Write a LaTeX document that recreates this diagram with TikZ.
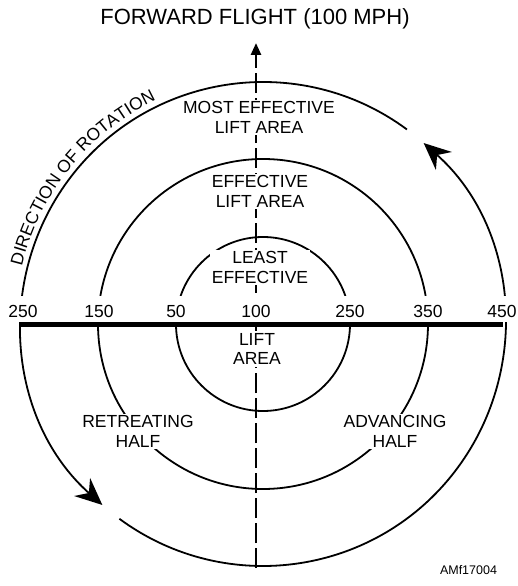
\documentclass[tikz,border=0pt]{standalone}
\usepackage{fontspec}
\setmainfont{Liberation Sans}
\usepackage{tikz}
\usetikzlibrary{arrows.meta,calc,positioning,decorations.text}

\begin{document}
\begin{tikzpicture}[x=1pt,y=1pt, every node/.style={font=\fontsize{17.5}{19.5}\selectfont,align=center},
  ring/.style={line width=1.8pt},
  spin/.style={ring,-{Stealth[length=27pt,width=24pt,inset=9pt]}},
  zone/.style={fill=white,inner sep=2pt},
  speed/.style={fill=white,anchor=south,inner xsep=2pt,inner ysep=0pt,text height=21.5pt,text depth=5pt}]
\useasboundingbox (-263,-262) rectangle (254,324);
% rotor disc
\draw[ring] (0,0) circle[radius=87];
\draw[ring] (0,0) circle[radius=165];
\draw[spin] (53.5:242) arc[start angle=53.5,end angle=228.4,radius=242];
\draw[spin] (233.6:242) arc[start angle=233.6,end angle=408.4,radius=242];
% flight axis
\coordinate (axbot) at (-7,-244);
\coordinate (axtop) at (-7,281);
\draw[line width=2.6pt,dash pattern=on 20pt off 5pt,-{Triangle[length=12pt,width=10pt]}] (axbot) -- (axtop);
% blade speeds
\node[speed] (s250l) at (-240,1.5) {250};
\node[speed] (s150) at (-164,1.5) {150};
\node[speed] (s50) at (-87,1.5) {50};
\node[speed] (s100) at (-7,1.5) {100};
\node[speed] (s250r) at (87,1.5) {250};
\node[speed] (s350) at (165,1.5) {350};
\node[speed] (s450) at (239,1.5) {450};
\coordinate (bladel) at (-242,-1);
\coordinate (blader) at (240,-1);
\draw[line width=5pt] (bladel) -- (blader);
% areas
\node[font=\fontsize{22}{24}\selectfont] (title) at (-8,305) {FORWARD FLIGHT (100 MPH)};
\node[zone] (most) at (-4,206.5) {MOST EFFECTIVE\\LIFT AREA};
\node[zone] (eff) at (-3,132.5) {EFFECTIVE\\LIFT AREA};
\node[zone] (least) at (-3,56.5) {LEAST\\EFFECTIVE};
\node[zone] (lift) at (-6,-25) {LIFT\\AREA};
\node[zone] (retr) at (-125,-107.5) {RETREATING\\HALF};
\node[zone] (adv) at (132,-107.5) {ADVANCING\\HALF};
\path[decorate,decoration={text along path,text align=center,
  text={|\fontsize{17.5}{19.5}\selectfont|DIRECTION OF ROTATION}}]
  (172:248) arc[start angle=172,end angle=110,radius=248];
\node[font=\fontsize{12.5}{14}\selectfont] (ref) at (205.5,-246) {AMf17004};
\end{tikzpicture}
\end{document}
